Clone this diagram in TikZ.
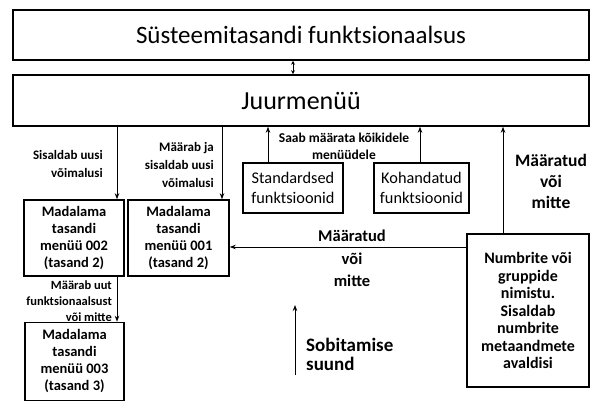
\documentclass[tikz,border=0pt]{standalone}
\usepackage{fontspec}
\setmainfont{Carlito}
\usetikzlibrary{arrows.meta}
\begin{document}
\begin{tikzpicture}[x=1pt,y=-1pt,
  box/.style={draw,line width=1.6pt,inner sep=0pt,align=center},
  arr/.style={line width=0.8pt,-{Stealth[length=6pt,width=4.5pt]}},
  lbl/.style={inner sep=0pt,font=\fontsize{13}{17.5}\selectfont\bfseries},
  mid/.style={inner sep=0pt,align=center}]
\useasboundingbox (0,0) rectangle (591,403);
\fill[white] (0,0) rectangle (591,403);
% boxes
\node[box,minimum width=576pt,minimum height=50pt,font=\fontsize{25}{30}\selectfont] (top) at (301,35) {Süsteemitasandi funktsionaalsus};
\node[box,minimum width=576pt,minimum height=51pt,font=\fontsize{26}{30}\selectfont] (juur) at (301,100.5) {Juurmenüü};
\node[box,minimum width=100pt,minimum height=76pt,font=\fontsize{14.5}{17}\selectfont\bfseries] (b002) at (74,238) {Madalama\\tasandi\\menüü 002\\(tasand 2)};
\node[box,minimum width=101pt,minimum height=76pt,font=\fontsize{14.5}{17}\selectfont\bfseries] (b001) at (178.5,238) {Madalama\\tasandi\\menüü 001\\(tasand 2)};
\node[box,minimum width=100pt,minimum height=50pt,font=\fontsize{16.3}{20}\selectfont] (std) at (293,188) {Standardsed\\funktsioonid};
\node[box,minimum width=95pt,minimum height=50pt,font=\fontsize{16.3}{20}\selectfont] (koh) at (421.5,188) {Kohandatud\\funktsioonid};
\node[box,minimum width=122pt,minimum height=153pt,font=\fontsize{16}{17.5}\selectfont\bfseries] (num) at (528,310.5) {Numbrite või\\gruppide\\nimistu.\\Sisaldab\\numbrite\\metaandmete\\avaldisi};
\node[box,minimum width=99pt,minimum height=78pt,font=\fontsize{14.5}{17}\selectfont\bfseries] (b003) at (74.5,361.5) {Madalama\\tasandi\\menüü 003\\(tasand 3)};
% helper coordinates
\coordinate (xa) at (117,0);
\coordinate (xb) at (222,0);
\coordinate (xc) at (268,0);
\coordinate (xd) at (420,0);
\coordinate (xe) at (503,0);
\coordinate (xf) at (293,0);
\coordinate (yh) at (0,247);
\coordinate (sobA) at (295,375);
\coordinate (sobB) at (295,305);
% connectors
\draw[line width=0.8pt,{Stealth[length=4pt,width=4pt]}-{Stealth[length=4pt,width=4pt]}] (top.south -| xf) -- (juur.north -| xf);
\draw[arr] (juur.south -| xa) -- (b002.north -| xa);
\draw[arr] (juur.south -| xb) -- (b001.north -| xb);
\draw[arr] (std.north -| xc) -- (juur.south -| xc);
\draw[arr] (koh.north -| xd) -- (juur.south -| xd);
\draw[arr] (num.north -| xe) -- (juur.south -| xe);
\draw[arr] (num.west |- yh) -- (b001.east |- yh);
\draw[arr] (b002.south -| xa) -- (b003.north -| xa);
\draw[arr] (sobA) -- (sobB);
% labels
\node[lbl,align=right,anchor=north east] (l1) at (103,150.5) {Sisaldab uusi\\võimalusi};
\node[lbl,align=right,anchor=north east,font=\fontsize{13}{18}\selectfont\bfseries] (l2) at (214,142.5) {Määrab ja\\sisaldab uusi\\võimalusi};
\node[lbl,align=center,anchor=north,font=\fontsize{13.5}{17}\selectfont\bfseries] (l3) at (344,133) {Saab määrata kõikidele\\menüüdele};
\node[mid,anchor=north,font=\fontsize{17.5}{21}\selectfont\bfseries] (l4) at (551,154) {Määratud\\või\\mitte};
\node[mid,anchor=north,font=\fontsize{16.5}{22.5}\selectfont\bfseries] (l5) at (352,230) {Määratud\\või\\mitte};
\node[lbl,align=right,anchor=north east,font=\fontsize{12.5}{16}\selectfont\bfseries] (l6) at (112,280.5) {Määrab uut\\funktsionaalsust\\või mitte};
\node[inner sep=0pt,align=left,anchor=north west,font=\fontsize{19}{19}\selectfont\bfseries] (l7) at (306,338) {Sobitamise\\suund};
\end{tikzpicture}
\end{document}
